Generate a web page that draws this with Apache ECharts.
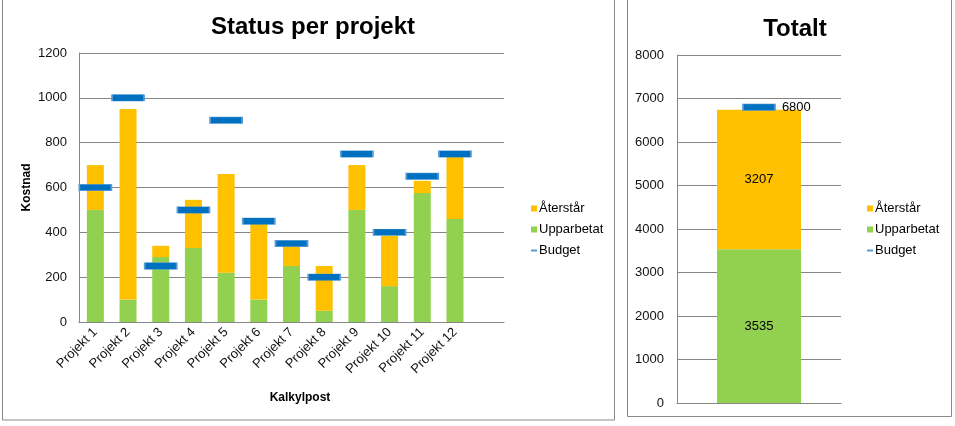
<!DOCTYPE html>
<html><head><meta charset="utf-8">
<script src="https://cdn.jsdelivr.net/npm/echarts@6/dist/echarts.min.js"></script>
<style>html,body{margin:0;padding:0;background:#fff}#c{width:955px;height:426px}</style>
</head><body><div id="c"></div>
<script>
const categories = ['Projekt 1','Projekt 2','Projekt 3','Projekt 4','Projekt 5','Projekt 6','Projekt 7','Projekt 8','Projekt 9','Projekt 10','Projekt 11','Projekt 12'];
const upparbetat = [500,100,290,330,220,100,250,50,500,160,575,460];
const aterstar   = [200,850,50,215,440,340,90,200,200,225,55,285];
const budget     = [600,1000,250,500,900,450,350,200,750,400,650,750];
const totalCategories = ['Totalt'];
const totalUpparbetat = [3535];
const totalAterstar = [3207];
const totalBudget = [6800];
const leftTicks = {min:0,max:1200,interval:200};
const rightTicks = {min:0,max:8000,interval:1000};

const FONT = 'Liberation Sans, Arial, sans-serif';
const GREEN = '#92D050', YELLOW = '#FFC000', BLUE = '#0070C0';
const chart = echarts.init(document.getElementById('c'), null, {renderer:'canvas'});
const lineIcon = 'path://M0,0h0.01v0.01h-0.01zM0,2.6h8v2.8h-8zM7.99,7.99h0.01v0.01h-0.01z';
function legendData(){
  return [
    {name:'Återstår', icon:'rect', itemStyle:{color:YELLOW, borderWidth:0}},
    {name:'Upparbetat', icon:'rect', itemStyle:{color:GREEN, borderWidth:0}},
    {name:'Budget', icon:lineIcon, itemStyle:{color:'#5B9BD5', borderWidth:0, opacity:1}}
  ];
}
const axisLabel = {color:'#111', fontFamily:FONT, fontSize:13};
const legendBase = {orient:'vertical', top:197, itemWidth:6, itemHeight:6, itemGap:8,
  textStyle:{fontFamily:FONT,fontSize:13,color:'#000',padding:[0,0,0,-3]}};
const markerStyle = {color:BLUE, borderColor:'#5B9BD5', borderWidth:0.8, opacity:1};
chart.setOption({
  animation:false,
  textStyle:{fontFamily:FONT},
  graphic:[
    {type:'rect', shape:{x:2.5,y:-5,width:612,height:425}, style:{fill:'none',stroke:'#8a8a8a',lineWidth:1}},
    {type:'rect', shape:{x:627.5,y:-5,width:324,height:421.5}, style:{fill:'none',stroke:'#8a8a8a',lineWidth:1}}
  ],
  title:[
    {text:'Status per projekt', left:308, top:10, textAlign:'center', textStyle:{fontFamily:FONT,fontSize:24,fontWeight:'bold',color:'#000'}},
    {text:'Totalt', left:790, top:12, textAlign:'center', textStyle:{fontFamily:FONT,fontSize:24,fontWeight:'bold',color:'#000'}}
  ],
  legend:[
    Object.assign({left:526, data:legendData()}, legendBase),
    Object.assign({left:862, data:legendData()}, legendBase)
  ],
  grid:[
    {left:79, top:53, width:425, height:269},
    {left:677, top:55, width:164, height:348}
  ],
  xAxis:[
    {type:'category', gridIndex:0, data:categories, max:categories.length,
     axisLine:{lineStyle:{color:'#868686'}}, axisTick:{show:false},
     axisLabel:Object.assign({}, axisLabel, {rotate:45, interval:0, margin:8,
       formatter:v => v == null ? '' : v}),
     name:'Kalkylpost', nameLocation:'middle', nameGap:70,
     nameTextStyle:{fontFamily:FONT,fontSize:12,fontWeight:'bold',color:'#000', padding:[0,0,0,17]}},
    {type:'category', gridIndex:1, data:totalCategories,
     axisLine:{lineStyle:{color:'#868686'}}, axisTick:{show:false}, axisLabel:{show:false}}
  ],
  yAxis:[
    {type:'value', gridIndex:0, min:leftTicks.min, max:leftTicks.max, interval:leftTicks.interval,
     axisLine:{show:true,lineStyle:{color:'#868686'}}, axisTick:{show:false},
     splitLine:{lineStyle:{color:'#868686'}}, axisLabel:Object.assign({margin:12, formatter:v=>String(v)}, axisLabel),
     name:'Kostnad', nameLocation:'middle', nameGap:46, nameRotate:90,
     nameTextStyle:{fontFamily:FONT,fontSize:12,fontWeight:'bold',color:'#000'}},
    {type:'value', gridIndex:1, min:rightTicks.min, max:rightTicks.max, interval:rightTicks.interval,
     axisLine:{show:true,lineStyle:{color:'#868686'}}, axisTick:{show:false},
     splitLine:{lineStyle:{color:'#868686'}}, axisLabel:Object.assign({margin:13, formatter:v=>String(v)}, axisLabel)}
  ],
  series:[
    {name:'Upparbetat', type:'bar', stack:'a', xAxisIndex:0, yAxisIndex:0, data:upparbetat,
     barWidth:17, itemStyle:{color:GREEN}},
    {name:'Återstår', type:'bar', stack:'a', xAxisIndex:0, yAxisIndex:0, data:aterstar,
     barWidth:17, itemStyle:{color:YELLOW}},
    {name:'Budget', type:'scatter', xAxisIndex:0, yAxisIndex:0, data:budget, z:10,
     symbol:'rect', symbolSize:[32,6.5], itemStyle:markerStyle},
    {name:'Upparbetat', type:'bar', stack:'b', xAxisIndex:1, yAxisIndex:1, data:totalUpparbetat,
     barWidth:84, itemStyle:{color:GREEN},
     label:{show:true, position:'inside', color:'#000', fontFamily:FONT, fontSize:13}},
    {name:'Återstår', type:'bar', stack:'b', xAxisIndex:1, yAxisIndex:1, data:totalAterstar,
     barWidth:84, itemStyle:{color:YELLOW},
     label:{show:true, position:'inside', color:'#000', fontFamily:FONT, fontSize:13}},
    {name:'Budget', type:'scatter', xAxisIndex:1, yAxisIndex:1, data:totalBudget, z:10,
     symbol:'rect', symbolSize:[32,6.5], itemStyle:markerStyle,
     label:{show:true, position:'right', distance:6, color:'#000', fontFamily:FONT, fontSize:13}}
  ]
});
</script></body></html>
